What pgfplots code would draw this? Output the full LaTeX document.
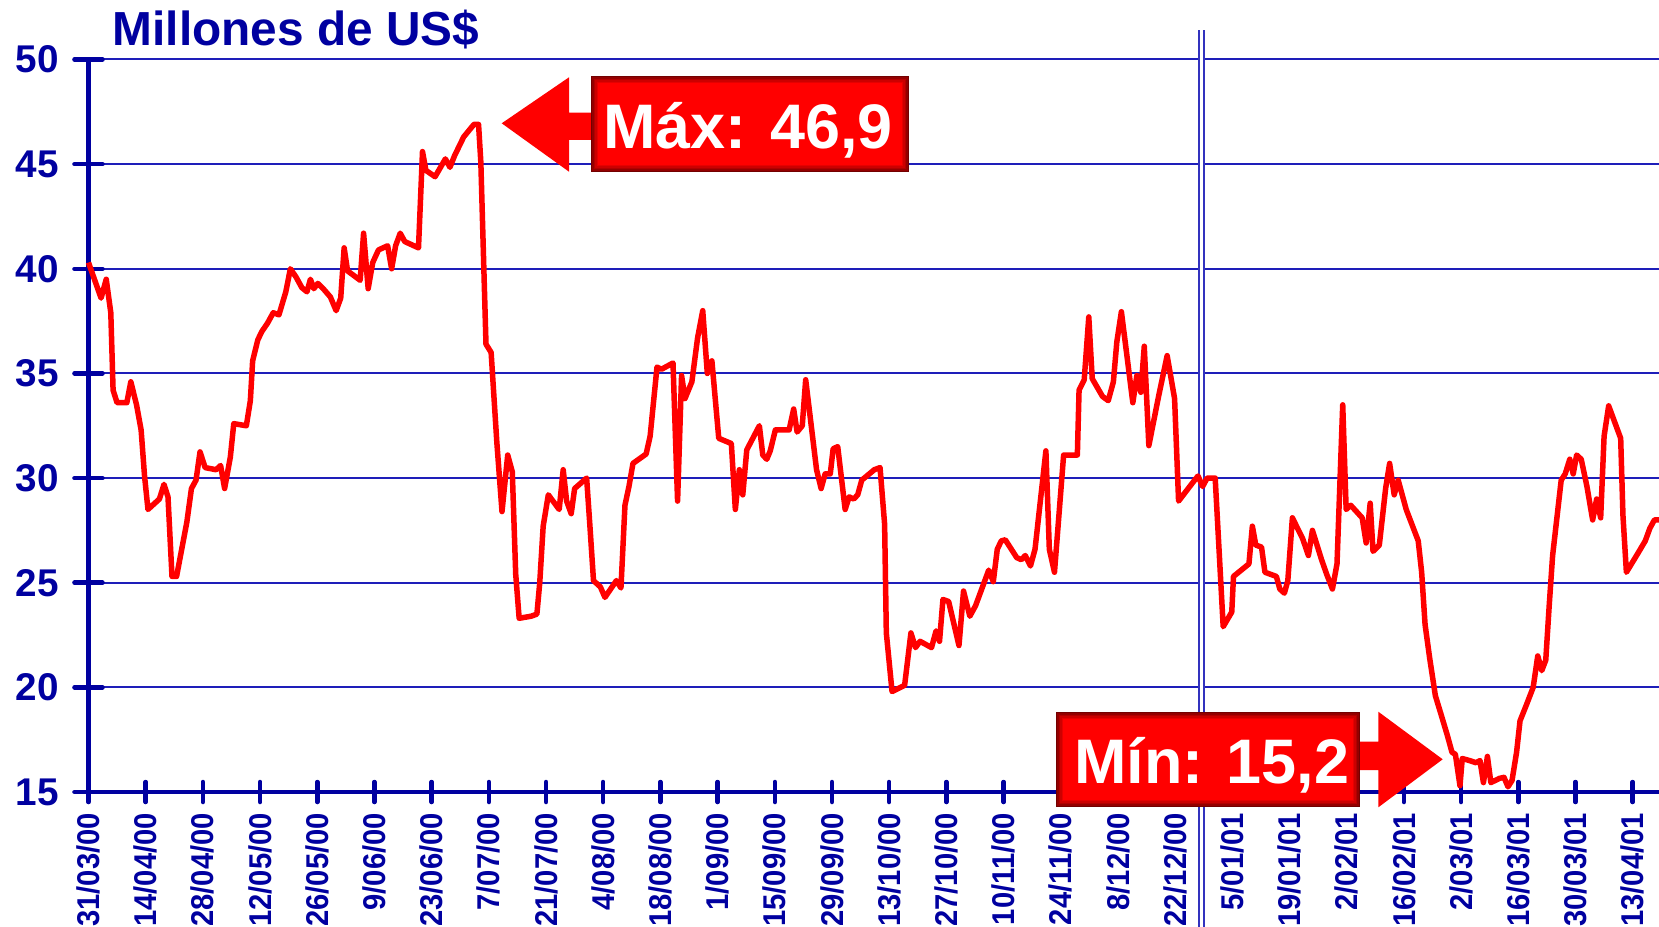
\documentclass[border=0pt]{standalone}
\usepackage{fontspec}
\setmainfont{Liberation Sans}
\usepackage{graphicx}
\usepackage{pgfplots}
\pgfplotsset{compat=1.18}
\definecolor{navyb}{RGB}{0,0,160}
\definecolor{gridb}{RGB}{30,30,185}
\definecolor{sepb}{RGB}{50,50,190}
\definecolor{pred}{RGB}{255,0,0}
\newcommand{\xl}[1]{\scalebox{1}[1.08]{#1}}

\begin{document}
\begin{tikzpicture}
\begin{axis}[
  at={(8.85mm,-79.2mm)}, anchor=south west,
  scale only axis, width=157.05mm, height=73.25mm,
  xmin=0, xmax=274.6, ymin=15, ymax=50,
  clip=false,
  axis lines=left,
  every non boxed x axis/.append style={x axis line style=-},
  every non boxed y axis/.append style={y axis line style=-},
  axis line style={-, draw=navyb, line width=0.46mm},
  tick align=center,
  tick style={draw=navyb, line width=0.45mm, line cap=round},
  xtick style={/pgfplots/major tick length=2.0mm},
  ytick style={/pgfplots/major tick length=2.8mm},
  ymajorgrids,
  major grid style={draw=gridb, line width=0.2mm},
  ytick={15,20,25,30,35,40,45,50},
  yticklabels={15,20,25,30,35,40,45,50},
  yticklabel style={font=\fontsize{11pt}{13pt}\selectfont\bfseries, text=navyb, inner sep=0pt, anchor=east},
  yticklabel shift=2.14mm,
  xtick={0,10,...,270},
  xticklabels={\xl{31/03/00},\xl{14/04/00},\xl{28/04/00},\xl{12/05/00},\xl{26/05/00},\xl{9/06/00},\xl{23/06/00},\xl{7/07/00},\xl{21/07/00},\xl{4/08/00},\xl{18/08/00},\xl{1/09/00},\xl{15/09/00},\xl{29/09/00},\xl{13/10/00},\xl{27/10/00},\xl{10/11/00},\xl{24/11/00},\xl{8/12/00},\xl{22/12/00},\xl{5/01/01},\xl{19/01/01},\xl{2/02/01},\xl{16/02/01},\xl{2/03/01},\xl{16/03/01},\xl{30/03/01},\xl{13/04/01}},
  xticklabel style={font=\fontsize{8.3pt}{9.5pt}\selectfont\bfseries, text=navyb, inner sep=0pt, rotate=90, anchor=east},
  xticklabel shift=1.3mm,
]
\draw[sepb, line width=0.22mm, double=white, double distance=0.33mm] (axis cs:194.6,51.4) -- (axis cs:194.6,8.0);
\addplot[pred, line width=0.55mm, line join=round, no marks] coordinates {
(0,40.3) (2.2,38.6) (3.1,39.5) (3.9,37.9) (4.3,34.2) (5.0,33.6) (6.7,33.6) (7.4,34.6) (8.4,33.5) (9.2,32.3)
(9.8,30.1) (10.4,28.5) (12.4,29.0) (13.2,29.7) (13.9,29.1) (14.6,25.3) (15.4,25.3) (17.2,27.9) (18.0,29.5) (18.8,29.9)
(19.5,31.25) (20.4,30.5) (22.3,30.4) (23.1,30.6) (23.8,29.5) (24.8,31.0) (25.4,32.6) (27.6,32.5) (28.3,33.7) (28.7,35.6)
(29.6,36.6) (30.3,37.0) (31.3,37.4) (32.3,37.9) (33.3,37.8) (34.5,38.9) (35.3,40.0) (36.3,39.6) (37.3,39.1) (38.2,38.9)
(38.8,39.5) (39.4,39.05) (40.1,39.3) (41.2,39.0) (42.3,38.65) (43.3,38.0) (44.1,38.6) (44.7,41.0) (45.3,39.9) (47.5,39.45)
(48.1,41.7) (48.9,39.05) (49.7,40.3) (50.7,40.9) (52.3,41.1) (53.0,40.0) (53.7,41.1) (54.5,41.7) (55.3,41.3) (57.7,41.0)
(58.4,45.6) (59.0,44.7) (60.6,44.4) (62.4,45.25) (63.2,44.85) (64.0,45.4) (65.6,46.3) (67.4,46.9) (68.2,46.9) (68.6,45.1)
(69.5,36.4) (70.4,36.0) (71.4,31.7) (72.3,28.4) (73.3,31.1) (74.1,30.3) (74.7,25.4) (75.3,23.3) (77.4,23.4) (78.4,23.5)
(78.9,25.0) (79.5,27.7) (80.4,29.2) (82.3,28.5) (83.0,30.4) (83.6,28.9) (84.4,28.3) (85.0,29.5) (87.1,30.0) (87.7,27.6)
(88.3,25.1) (89.5,24.8) (90.3,24.3) (92.3,25.1) (93.1,24.75) (93.8,28.7) (94.5,29.6) (95.2,30.7) (97.5,31.15) (98.2,32.0)
(99.4,35.3) (100.2,35.2) (102.2,35.5) (103.0,28.9) (103.7,34.9) (104.3,33.8) (105.5,34.6) (106.5,36.7) (107.4,38.0) (108.2,35.0)
(109.0,35.6) (110.2,31.9) (112.4,31.65) (113.1,28.5) (113.8,30.4) (114.4,29.2) (115.1,31.35) (117.3,32.5) (117.9,31.1) (118.6,30.9)
(119.2,31.3) (120.1,32.3) (122.5,32.3) (123.3,33.3) (123.9,32.2) (124.8,32.5) (125.4,34.7) (127.3,30.4) (128.1,29.5) (128.8,30.2)
(129.7,30.2) (130.2,31.4) (131.0,31.5) (132.3,28.5) (133.0,29.1) (133.8,29.0) (134.5,29.2) (135.2,29.9) (136.3,30.15) (137.4,30.4)
(138.4,30.5) (139.2,27.8) (139.5,22.6) (140.5,19.8) (142.7,20.1) (143.8,22.6) (144.6,21.9) (145.4,22.2) (147.4,21.9) (148.2,22.7)
(148.8,22.2) (149.4,24.2) (150.4,24.1) (152.2,22.0) (153.0,24.6) (154.1,23.4) (155.1,23.9) (157.4,25.6) (158.2,25.05) (158.9,26.6)
(159.6,27.0) (160.3,27.05) (162.3,26.2) (163.1,26.1) (163.8,26.3) (164.7,25.8) (165.5,26.6) (167.4,31.3) (168.0,26.6) (168.9,25.5)
(170.5,31.1) (172.9,31.1) (173.2,34.2) (174.1,34.7) (174.9,37.7) (175.5,34.75) (177.3,33.9) (178.3,33.7) (179.2,34.6) (179.8,36.5)
(180.6,37.95) (182.6,33.6) (183.3,34.9) (184.0,34.1) (184.6,36.3) (185.4,31.55) (187.1,33.9) (188.6,35.85) (189.9,33.8) (190.6,28.9)
(193.4,29.9) (194.0,30.1) (194.8,29.6) (195.6,30.0) (197.0,30.0) (198.4,22.9) (199.9,23.6) (200.2,25.3) (202.9,25.9) (203.5,27.7)
(204.1,26.8) (205.1,26.7) (205.7,25.5) (207.7,25.3) (208.3,24.7) (209.1,24.5) (209.7,25.1) (210.5,28.1) (212.3,27.1) (213.3,26.3)
(214.0,27.5) (215.6,26.1) (216.5,25.4) (217.5,24.7) (218.3,25.9) (219.3,33.5) (219.9,28.5) (220.7,28.7) (222.7,28.1) (223.4,26.9)
(224.1,28.8) (224.6,26.5) (225.7,26.8) (226.8,29.5) (227.5,30.7) (228.3,29.2) (229.0,29.9) (230.4,28.5) (232.5,27.0) (233.1,25.5)
(233.7,23.0) (234.5,21.4) (235.5,19.6) (236.5,18.7) (237.6,17.7) (238.4,16.9) (239.0,16.8) (239.8,15.3) (240.2,16.6) (241.5,16.5)
(242.6,16.4) (243.3,16.5) (243.9,15.45) (244.6,16.7) (245.2,15.45) (246.7,15.65) (247.5,15.7) (248.2,15.25) (248.9,15.55) (249.7,16.9)
(250.3,18.4) (251.4,19.15) (252.6,20.0) (253.4,21.5) (254.1,20.8) (254.8,21.3) (255.4,23.9) (256.0,26.3) (257.5,29.9) (258.2,30.2)
(259.0,30.9) (259.6,30.2) (260.2,31.1) (261.0,30.9) (262.0,29.6) (263.0,28.0) (263.7,29.0) (264.4,28.1) (265.0,32.0) (265.8,33.45)
(267.9,31.9) (268.3,28.2) (268.9,25.5) (270.9,26.4) (272.2,27.0) (273.0,27.6) (273.8,28.0) (274.6,28.0)
};
\end{axis}

\begin{scope}[x=0.1mm,y=-0.1mm]
% title
\node[anchor=base west, inner sep=0pt, text=navyb, font=\fontsize{13.6pt}{16pt}\selectfont\bfseries] at (112,46) {Millones de US\$};
% Max annotation
\fill[pred] (501.7,123.3) -- (569,77.3) -- (569,112.7) -- (592,112.7) -- (592,140) -- (569,140) -- (569,171.7) -- cycle;
\foreach \k/\c in {0/45,1.5/58,3/70,4.5/80,6/90,7.5/100}{
  \fill[pred!\c!black] ({590.7+\k},{76+\k}) rectangle ({909.3-\k},{172.3-\k});
}
\node[anchor=base, inner sep=0pt, text=white, font=\fontsize{17.9pt}{20pt}\selectfont\bfseries] at (748,148.3) {Máx: 46,9};
% Min annotation
\fill[pred] (1358,741.7) -- (1378.3,741.7) -- (1378.3,711.7) -- (1442.7,759.3) -- (1378.3,807.3) -- (1378.3,770) -- (1358,770) -- cycle;
\foreach \k/\c in {0/45,1.5/58,3/70,4.5/80,6/90,7.5/100}{
  \fill[pred!\c!black] ({1055.7+\k},{711.7+\k}) rectangle ({1360-\k},{807.3-\k});
}
\node[anchor=base, inner sep=0pt, text=white, font=\fontsize{17.9pt}{20pt}\selectfont\bfseries] at (1211.8,783.3) {Mín: 15,2};
\pgfresetboundingbox
\useasboundingbox (0,0) rectangle (1659,926);
\end{scope}
\end{tikzpicture}
\end{document}
